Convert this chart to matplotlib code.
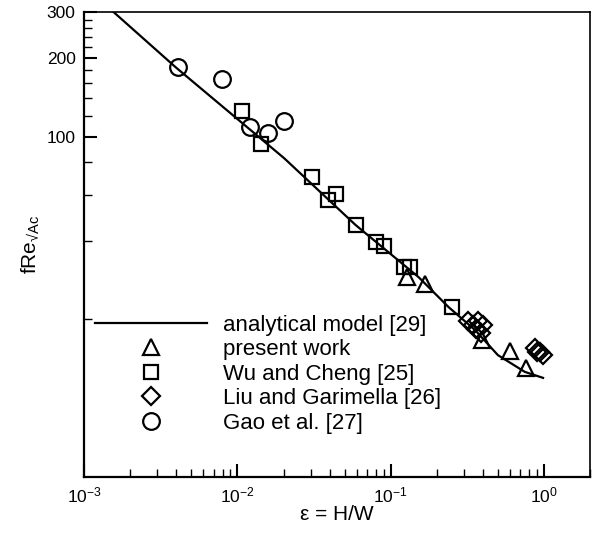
import numpy as np
import matplotlib.pyplot as plt
from matplotlib.ticker import FixedLocator, NullFormatter, LogLocator

plt.rcParams['font.family'] = ['Liberation Sans', 'DejaVu Sans']
plt.rcParams['mathtext.fontset'] = 'custom'
plt.rcParams['mathtext.rm'] = 'Liberation Sans'
plt.rcParams['mathtext.it'] = 'Liberation Sans:italic'

# analytical model [29]
model_x = [0.00155, 0.00396, 0.0202, 0.059, 0.152, 0.238, 0.355, 0.5, 0.749, 0.985]
model_y = [300, 184, 82.6, 45.9, 29.0, 22.3, 18.2, 14.6, 12.6, 11.95]

# present work
pw_x = [0.128, 0.168, 0.392, 0.598, 0.767]
pw_y = [29.1, 27.4, 16.7, 15.2, 13.0]

# Wu and Cheng [25]
wu_x = [0.0107, 0.0143, 0.0308, 0.0392, 0.0438, 0.059, 0.0803, 0.0904, 0.1215, 0.134, 0.25]
wu_y = [125.6, 93.3, 70.2, 57.1, 60.1, 45.9, 39.5, 38.0, 31.6, 31.6, 22.3]

# Liu and Garimella [26]
liu_x = [0.321, 0.346, 0.372, 0.40, 0.362, 0.385, 0.874, 0.935, 0.985, 0.90]
liu_y = [19.8, 19.1, 19.8, 19.1, 18.4, 17.7, 15.5, 15.0, 14.6, 15.0]

# Gao et al. [27]
gao_x = [0.00407, 0.00796, 0.0120, 0.0159, 0.0200]
gao_y = [184.4, 166, 108.8, 103.3, 114.5]

fig = plt.figure(figsize=(5.92, 5.34), dpi=100)
ax = fig.add_axes([0.142, 0.107, 0.855, 0.871])

mk = dict(linestyle='none', markerfacecolor='none', markeredgecolor='k', markeredgewidth=1.6)
ax.plot(model_x, model_y, 'k-', lw=1.6, label='analytical model [29]')
ax.plot(pw_x, pw_y, marker='^', markersize=12, label='present work', **mk)
ax.plot(wu_x, wu_y, marker='s', markersize=10, label='Wu and Cheng [25]', **mk)
ax.plot(liu_x, liu_y, marker='D', markersize=9, label='Liu and Garimella [26]', **mk)
ax.plot(gao_x, gao_y, marker='o', markersize=12, label='Gao et al. [27]', **mk)

ax.set_xscale('log')
ax.set_yscale('log')
ax.set_xlim(1e-3, 2)
ax.set_ylim(5, 300)

ax.yaxis.set_major_locator(FixedLocator([100, 200, 300]))
ax.yaxis.set_major_formatter(plt.FixedFormatter(['100', '200', '300']))
ax.yaxis.set_minor_locator(FixedLocator([20, 40, 60, 80, 120, 140, 160, 180, 220, 240, 260, 280]))
ax.yaxis.set_minor_formatter(NullFormatter())
ax.xaxis.set_major_locator(LogLocator(base=10))
ax.xaxis.set_minor_locator(LogLocator(base=10, subs=np.arange(2, 10)))
ax.xaxis.set_minor_formatter(NullFormatter())

ax.tick_params(which='both', direction='in', top=False, right=False, labelsize=12.5)
ax.tick_params(which='major', length=9.5, width=1.5, pad=6)
ax.tick_params(which='minor', length=5.8, width=1.0)
for s in ['left', 'bottom']:
    ax.spines[s].set_linewidth(1.6)
for s in ['top', 'right']:
    ax.spines[s].set_linewidth(1.2)

ax.set_xlabel('ε = H/W', fontsize=15, labelpad=0)
ax.set_ylabel('$\\mathregular{fRe_{√Ac}}$', fontsize=15, labelpad=4)

ax.legend(loc='upper left', bbox_to_anchor=(0.022, 0.349), frameon=False, fontsize=16,
          handlelength=5.05, handletextpad=0.68, labelspacing=0.16, borderpad=0,
          borderaxespad=0)

fig.savefig('out.png', dpi=100)
